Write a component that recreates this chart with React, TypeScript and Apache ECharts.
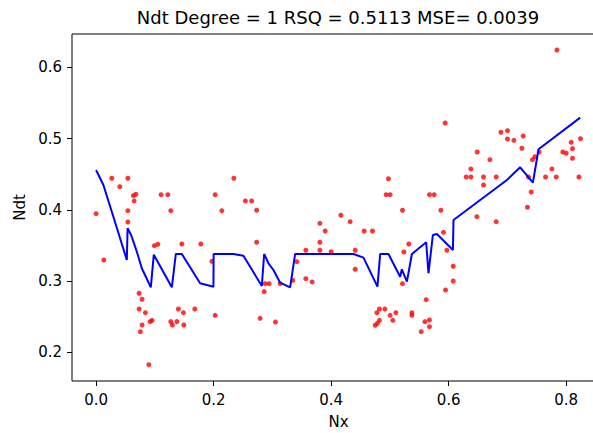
import React, { useEffect, useRef } from "react";
import * as echarts from "echarts";

const FONT = "DejaVu Sans";

// Observed samples (Nx, Ndt)
const ndtX = [
  0.0, 0.0131, 0.0267, 0.054, 0.0403, 0.0635, 0.0676, 0.0647, 0.1106, 0.122,
  0.2026, 0.2344, 0.2541, 0.2647, 0.054, 0.054, 0.1271, 0.214, 0.0992, 0.105,
  0.1459, 0.1782, 0.1969, 0.0732, 0.0783, 0.0732, 0.0839, 0.0783, 0.0754, 0.0919,
  0.0953, 0.1401, 0.1486, 0.168, 0.1271, 0.1299, 0.1374, 0.1493, 0.2026, 0.0897,
  0.2732, 0.2732, 0.3416, 0.286, 0.2877, 0.2945, 0.2791, 0.3052, 0.3132, 0.3348,
  0.3569, 0.3569, 0.3677, 0.3808, 0.3898, 0.3808, 0.3808, 0.4, 0.4165, 0.4323,
  0.4562, 0.4703, 0.4409, 0.4409, 0.4975, 0.4936, 0.5004, 0.5214, 0.5322, 0.5237,
  0.5214, 0.5532, 0.4822, 0.4914, 0.4778, 0.5004, 0.5101, 0.505, 0.4822, 0.4788,
  0.4749, 0.5374, 0.5374, 0.7842, 0.594, 0.6889, 0.7001, 0.7001, 0.711, 0.7268,
  0.7246, 0.6485, 0.6701, 0.6378, 0.6298, 0.6378, 0.6593, 0.6809, 0.6593, 0.5673,
  0.5753, 0.5867, 0.7426, 0.7467, 0.754, 0.7358, 0.7648, 0.783, 0.8216, 0.7757,
  0.7943, 0.8, 0.8085, 0.8107, 0.8243, 0.8107, 0.7404, 0.7341, 0.648, 0.6809,
  0.5911, 0.5969, 0.6077, 0.6077, 0.5946, 0.5617, 0.5595, 0.5673, 0.5673,
];
const ndtY = [
  0.3945, 0.3295, 0.4442, 0.4442, 0.4324, 0.4198, 0.4218, 0.4124, 0.4212, 0.4212,
  0.4212, 0.4442, 0.4124, 0.4124, 0.3987, 0.3829, 0.3987, 0.3987, 0.3496, 0.3516,
  0.352, 0.352, 0.3277, 0.2828, 0.2744, 0.2608, 0.2556, 0.2383, 0.2289, 0.243,
  0.2449, 0.2608, 0.2556, 0.2608, 0.243, 0.2383, 0.243, 0.2383, 0.2519, 0.1826,
  0.3993, 0.3544, 0.3272, 0.2851, 0.2963, 0.2963, 0.2477, 0.2425, 0.2963, 0.301,
  0.3432, 0.3033, 0.2987, 0.381, 0.3702, 0.3544, 0.3432, 0.3412, 0.3923, 0.3833,
  0.3702, 0.3702, 0.3432, 0.3165, 0.4436, 0.4212, 0.4212, 0.3993, 0.352, 0.3408,
  0.2963, 0.2289, 0.2608, 0.2608, 0.2556, 0.2519, 0.2556, 0.2449, 0.2449, 0.2407,
  0.2379, 0.2556, 0.2519, 0.6243, 0.5218, 0.5088, 0.511, 0.4994, 0.4975, 0.5036,
  0.4863, 0.4811, 0.4703, 0.4573, 0.446, 0.446, 0.446, 0.446, 0.4348, 0.4212,
  0.4212, 0.3993, 0.4703, 0.4745, 0.4811, 0.446, 0.446, 0.446, 0.446, 0.4573,
  0.4811, 0.4793, 0.4947, 0.4858, 0.4998, 0.4723, 0.425, 0.4035, 0.3903, 0.3833,
  0.3684, 0.3432, 0.3207, 0.3001, 0.2874, 0.2738, 0.243, 0.2453, 0.2359,
];

// Degree-1 model prediction along sorted Nx
const fitX = [
  0.0, 0.0124, 0.0294, 0.0523, 0.0536, 0.0596, 0.0693, 0.0778, 0.0931, 0.0982,
  0.1289, 0.1357, 0.1459, 0.177, 0.1997, 0.2, 0.2337, 0.2507, 0.282, 0.286,
  0.2933, 0.3018, 0.3132, 0.3302, 0.3387, 0.4379, 0.455, 0.4788, 0.4834, 0.4975,
  0.5174, 0.5203, 0.5289, 0.5374, 0.5617, 0.5656, 0.5731, 0.5799, 0.6072, 0.6082,
  0.6991, 0.7217, 0.7433, 0.7529, 0.8238,
];
const fitY = [
  0.4559, 0.4348, 0.3903, 0.3295, 0.374, 0.3646, 0.3412, 0.3179, 0.2912, 0.337,
  0.2912, 0.338, 0.338, 0.2968, 0.2921, 0.338, 0.338, 0.3356, 0.293, 0.338,
  0.3249, 0.3155, 0.2977, 0.2912, 0.338, 0.338, 0.3328, 0.2921, 0.338, 0.338,
  0.3061, 0.3165, 0.2991, 0.338, 0.3544, 0.3109, 0.3646, 0.366, 0.3436, 0.3857,
  0.4418, 0.4596, 0.438, 0.4849, 0.5293,
];

const xTicks = [0.0, 0.2, 0.4, 0.6, 0.8];
const yTicks = [0.2, 0.3, 0.4, 0.5, 0.6];

const titleText = "Ndt Degree = 1 RSQ = 0.5113 MSE= 0.0039";
const xName = "Nx";
const yName = "Ndt";

export default function App() {
  const ref = useRef<HTMLDivElement | null>(null);

  useEffect(() => {
    if (!ref.current) return;
    const chart = echarts.init(ref.current, null, { renderer: "svg" });

    const points = ndtX.map((x, i) => [x, ndtY[i]]);
    const fit = fitX.map((x, i) => [x, fitY[i]]);

    const tickLabel = {
      color: "#000",
      fontSize: 15,
      fontFamily: FONT,
    };

    chart.setOption({
      animation: false,
      backgroundColor: "#fff",
      grid: {
        left: 72,
        top: 34,
        right: -12,
        bottom: 52,
        show: true,
        borderColor: "#000",
        borderWidth: 1,
        backgroundColor: "transparent",
        containLabel: false,
        outerBoundsMode: "none",
      },
      graphic: [
        {
          type: "text",
          x: 338,
          y: 17,
          style: {
            text: titleText,
            fill: "#000",
            font: `18px "${FONT}"`,
            textAlign: "center",
            textVerticalAlign: "middle",
          },
        },
      ],
      xAxis: {
        type: "value",
        min: -0.041,
        max: 0.866,
        splitLine: { show: false },
        axisLine: { show: false, onZero: false },
        axisTick: {
          show: true,
          inside: false,
          length: 5,
          customValues: xTicks,
          lineStyle: { color: "#000", width: 1 },
        },
        axisLabel: {
          ...tickLabel,
          margin: 11,
          customValues: xTicks,
          formatter: (v: number) => v.toFixed(1),
        },
        name: xName,
        nameLocation: "middle",
        nameGap: 33,
        nameTextStyle: { ...tickLabel, verticalAlign: "top" },
      },
      yAxis: {
        type: "value",
        min: 0.1597,
        max: 0.6467,
        splitLine: { show: false },
        axisLine: { show: false, onZero: false },
        axisTick: {
          show: true,
          inside: false,
          length: 5,
          customValues: yTicks,
          lineStyle: { color: "#000", width: 1 },
        },
        axisLabel: {
          ...tickLabel,
          margin: 10,
          customValues: yTicks,
          formatter: (v: number) => v.toFixed(1),
        },
        name: yName,
        nameLocation: "middle",
        nameRotate: 90,
        nameGap: 44,
        nameTextStyle: { ...tickLabel },
      },
      series: [
        {
          type: "scatter",
          data: points,
          symbol: "circle",
          symbolSize: 5,
          itemStyle: { color: "#ff0000" },
          z: 2,
        },
        {
          type: "line",
          data: fit,
          showSymbol: false,
          symbol: "none",
          lineStyle: { color: "#0000ff", width: 2 },
          z: 3,
        },
      ],
    });

    return () => chart.dispose();
  }, []);

  return (
    <div
      ref={ref}
      style={{ position: "fixed", left: 0, top: 0, width: 593, height: 433 }}
    />
  );
}
